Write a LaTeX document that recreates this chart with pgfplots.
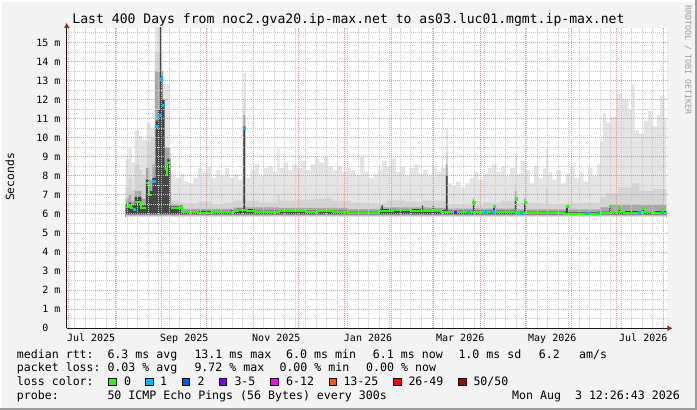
\documentclass[border=0pt]{standalone}
\usepackage{fontspec}
\setmainfont{DejaVu Sans Mono}
\usepackage{pgfplots}
\pgfplotsset{compat=1.18}
\usetikzlibrary{arrows.meta}

\definecolor{bgc}{RGB}{243,243,243}
\definecolor{smokeA}{RGB}{228,228,228}
\definecolor{smokeB}{RGB}{212,212,212}
\definecolor{smokeC}{RGB}{168,168,168}
\definecolor{smokeD}{RGB}{70,70,70}
\definecolor{loss0}{HTML}{26FF00}
\definecolor{loss1}{HTML}{00B8FF}
\definecolor{loss2}{HTML}{0059FF}
\definecolor{loss3}{HTML}{7E00FF}
\definecolor{loss6}{HTML}{FF00FF}
\definecolor{loss13}{HTML}{FF5500}
\definecolor{loss26}{HTML}{FF0000}
\definecolor{loss50}{HTML}{A10000}
\definecolor{mgrid}{RGB}{242,150,150}
\definecolor{mingrid}{RGB}{205,205,205}
\definecolor{arrowred}{RGB}{170,30,30}

\newcommand{\legfont}{\fontsize{11.6}{13}\selectfont}
\newcommand{\legt}[3]{\node[anchor=base west,inner sep=0pt,font=\legfont] at (#1,#2) {#3};}
\newcommand{\lbox}[2]{\filldraw[fill=#2,draw=black,line width=0.8pt] (#1,24.3) rectangle ++(7.7,7.7);}

\begin{document}
\begin{tikzpicture}[x=1pt,y=1pt]
% canvas and 3d border
\fill[bgc] (0,0) rectangle (697,410);
\fill[white] (0,408) rectangle (697,410);
\fill[white] (0,0) rectangle (2,410);
\fill[black!38] (0,0) rectangle (697,2);
\fill[black!38] (695,0) rectangle (697,410);

\begin{axis}[
    at={(66.7pt,81.7pt)}, anchor=south west,
    scale only axis, width=600.6pt, height=300.3pt,
    xmin=-1.3, xmax=398.7, ymin=0, ymax=15.76,
    axis background/.style={fill=white},
    axis on top,
    axis lines=left,
    axis line style={black!90, line width=1pt, shorten >=-5pt,
        -{Triangle[length=5pt,width=5pt,color=arrowred]}},
    xtick={15,77,138.3,199.4,260.8,322.1,382.7},
    xticklabels={Jul 2025,Sep 2025,Nov 2025,Jan 2026,Mar 2026,May 2026,Jul 2026},
    extra x ticks={0,31,62,92,123,153,184,215,243,274,304,335,365,396},
    extra x tick labels={},
    extra x tick style={grid=major},
    minor xtick={4,11,...,396},
    ytick={0,1,...,15},
    yticklabels={0\hphantom{mm},1 m,2 m,3 m,4 m,5 m,6 m,7 m,8 m,9 m,10 m,11 m,12 m,13 m,14 m,15 m},
    minor ytick={0.5,1.5,...,15.5},
    xmajorgrids=false, ymajorgrids=true, xminorgrids=true, yminorgrids=true,
    major grid style={mgrid, dash pattern=on 1pt off 1pt, line width=1pt},
    minor grid style={mingrid, dash pattern=on 1pt off 1pt, line width=1pt},
    major tick length=0pt, minor tick length=0pt,
    tick label style={font=\fontsize{10}{12}\selectfont},
    xticklabel style={anchor=north, inner sep=0pt, yshift=-5.2pt},
    yticklabel style={anchor=east, inner sep=0pt, xshift=-6pt},
    unbounded coords=jump,
]
% outer smoke (max envelope)
\addplot[const plot, fill=smokeA, draw=none] coordinates {
(38,8.9)(40,9.5)(42,8.7)(44,10.4)(47,10.1)(49,9.9)(52,10.8)(55,10.5)(57.5,16)(62.5,12.8)
(67,8.2)(68.5,8.0)(71,7.9)(74,8.1)(77,7.7)(80,7.6)(83,7.9)(86,8.4)(89,8.2)(92,8.5)
(95,7.9)(98,8.3)(101,8.0)(104,8.4)(107,7.9)(110,8.1)(113,7.8)(116.5,13.4)(118,7.9)(121,8.3)
(124,8.6)(127,8.0)(130,8.4)(133,8.5)(136,8.2)(139,9.4)(140.5,8.4)(143,8.7)(146,8.3)(149,8.6)
(152,8.4)(155,8.8)(158,8.3)(161,8.6)(164,8.9)(167,8.7)(170,9.0)(173,8.5)(176,8.3)(179,8.5)
(182,8.2)(185,8.4)(188,8.3)(191,8.0)(194,9.0)(197,8.2)(200,7.9)(203,8.1)(206,8.3)(209,8.8)
(212,8.5)(215,8.9)(218,8.2)(221,8.5)(224,8.0)(227,8.4)(230,8.6)(233,8.1)(236,8.3)(239,8.0)
(242,8.5)(245,8.2)(248,8.4)(251.3,10.5)(252.7,7.6)(255,7.5)(258,7.7)(261,7.4)(264,7.6)(267,7.9)
(270,8.2)(273,7.8)(276,8.1)(279,8.4)(282,8.6)(285,8.2)(288,8.5)(291,8.0)(294,8.4)(297.3,9.2)
(298.7,8.1)(301,8.8)(304,8.3)(307,7.6)(310,8.5)(313,7.9)(316,8.4)(318,9.5)(319.5,8.2)(322,7.8)
(325,8.3)(328,7.6)(331,8.1)(334,8.5)(337,7.9)(340,8.2)(343,7.7)(346,8.4)(349,8.0)(352,8.6)
(354,9.8)(356,11.3)(358,10.8)(361,11.1)(365,12.3)(369,12.0)(373,11.5)(375,12.8)(377,10.4)(380,10.2)
(383,10.9)(386,11.4)(389,10.6)(392,11.2)(394,12.2)(397,11.0)(398,11.0)
} \closedcycle;
% middle smoke
\addplot[const plot, fill=smokeB, draw=none] coordinates {
(38,7.4)(40,7.9)(42,7.3)(44,8.6)(47,8.3)(49,8.0)(52,9.8)(55,10.0)(57.5,14.5)(62.5,11.0)
(64,9.4)(67,6.9)(68.5,6.7)(74,6.6)(77,6.55)(86,6.65)(95,6.5)(104,6.6)(110,6.7)(116.3,12.0)
(117.6,6.7)(127,6.6)(139,7.0)(140.5,6.7)(152,6.75)(164,6.8)(176,6.7)(188,6.6)(200,6.55)(212,6.7)
(224,6.65)(236,6.7)(251.2,9.2)(252.4,6.5)(264,6.45)(276,6.6)(288,6.7)(297.2,7.6)(298.4,6.6)(310,6.55)
(318,7.3)(319.5,6.5)(330,6.55)(342,6.6)(354,6.9)(358,7.1)(366,7.4)(375,7.6)(380,7.2)(390,7.3)(398,7.3)
} \closedcycle;
\addplot[const plot, fill=smokeC, draw=none] coordinates {
(38,6.8)(40,7.0)(41.8,6.7)(44,7.2)(48.4,6.8)(51.5,8.4)(53.6,7.8)(55.8,8.6)(57.5,13.5)(63,9.5)
(67.8,6.5)(74,6.45)(75.5,6.27)(110,6.33)(116.3,11.2)(117.6,6.35)(140,6.32)(186,6.25)(207,6.35)(240,6.32)
(251.2,8.6)(252.4,6.28)(269.2,6.8)(270.4,6.28)(297.2,7.2)(298.4,6.24)(303.4,6.8)(304.6,6.24)(354,6.35)(360,6.48)(398,6.48)
} \closedcycle;
% dark core
\addplot[const plot, fill=smokeD, draw=none] coordinates {
(38,6.5)(40,6.6)(41.8,6.45)(44,6.9)(48.4,6.45)(51.5,7.8)(53.6,7.2)(55.8,7.9)(58,10.9)(59.5,11.5)
(60.7,16)(61.4,13.3)(62.2,12.0)(64,8.3)(65.8,8.9)(67.8,6.4)(74,6.45)(75.5,6.16)(108,6.2)(112,6.28)
(116.3,10.6)(117.6,6.26)(124,6.18)(186,6.12)(207,6.25)(208.2,6.45)(209.2,6.25)(216,6.28)(217,6.25)(235,6.45)
(236,6.22)(242.3,6.4)(243.3,6.22)(251.2,8.0)(252.4,6.18)(269.2,6.65)(270.4,6.18)(282.7,6.45)(283.9,6.18)(297.2,6.85)
(298.4,6.12)(303.4,6.65)(304.6,6.12)(331.2,6.45)(332.4,6.08)(354,6.12)(360.1,6.45)(361.3,6.15)(366.1,6.35)(367.3,6.15)
(382.1,6.35)(383.3,6.15)(394.7,6.3)(395.9,6.15)(398,6.15)
} \closedcycle;
% smoke below the median, fading out
\addplot[fill=black!45, draw=none] coordinates {(38,6.02)(398,6.02)} \closedcycle;
\addplot[fill=black!25, draw=none] coordinates {(38,5.96)(398,5.96)} \closedcycle;
\addplot[fill=black!12, draw=none] coordinates {(38,5.91)(398,5.91)} \closedcycle;
\addplot[fill=white, draw=none] coordinates {(37,5.86)(399,5.86)} \closedcycle;

% median rtt, 0 loss
\addplot[const plot, loss0, line width=2pt] coordinates {
(38,6.35)(40,6.45)(41.8,6.3)(43,6.3)(43,nan)
(44,6.65)(48.4,6.3)(51.5,6.3)(51.5,nan)
(51.6,7.6)(53.6,7.0)(55.8,7.0)(55.8,nan)
(55.9,7.7)(57.3,7.7)(57.3,nan)
(64,8.05)(65.8,8.65)(67.8,8.65)(67.8,nan)
(67.9,6.3)(74,6.35)(75.5,6.08)(86,6.06)(96,6.08)(104,6.1)(110,6.15)(113,6.22)(119,6.18)(124,6.12)
(132,6.1)(140,6.14)(150,6.16)(158,6.12)(166,6.15)(176,6.12)(186,6.05)(197,6.07)(207,6.18)(216,6.2)
(228,6.18)(238,6.15)(248,6.12)(260,6.1)(275,6.12)(288,6.1)(300,6.05)(315,6.03)(330,6.02)(345,6.0)
(354,6.05)(362,6.08)(370,6.05)(380,6.08)(390,6.05)(398,6.05)
};
\addplot[only marks, mark=square*, mark size=1.1pt, loss0] coordinates {
(269.8,6.6)(283.3,6.4)(297.8,6.8)(304,6.6)(331.8,6.4)(360.7,6.4)(366.7,6.3)(382.7,6.3)(395.3,6.25)
};
% median rtt, 1 loss
\addplot[only marks, mark=square*, mark size=1.1pt, loss1] coordinates {
(43.5,6.25)(56.6,7.7)(59,10.6)(60.3,11.2)(61.5,13.1)(62.8,11.7)(117,10.5)(266.2,6.12)(277.3,6.12)
(282.4,6.12)(296.7,6.2)(301.3,6.07)(345,6.02)(352.9,6.1)(380.2,6.08)(395.1,6.1)
};
% median rtt, 3-5 loss
\addplot[only marks, mark=square*, mark size=1.1pt, loss3] coordinates {(257.3,6.1)};
\end{axis}

% title and side texts
\node[anchor=base, inner sep=0pt, font=\fontsize{13.1}{15}\selectfont] at (348.5,386)
  {Last 400 Days from noc2.gva20.ip-max.net to as03.luc01.mgmt.ip-max.net};
\node[rotate=90, inner sep=0pt, font=\fontsize{11.3}{13}\selectfont] at (10,233) {Seconds};
\node[rotate=-90, inner sep=0pt, text=black!38, font=\fontsize{8.3}{10}\selectfont] at (688,350)
  {RRDTOOL / TOBI OETIKER};

% legend block
\legt{16.7}{51.7}{median rtt:}
\legt{107.3}{51.7}{6.3 ms avg}
\legt{194.3}{51.7}{13.1 ms max}
\legt{286}{51.7}{6.0 ms min}
\legt{372.7}{51.7}{6.1 ms now}
\legt{458.3}{51.7}{1.0 ms sd}
\legt{538.7}{51.7}{6.2}
\legt{579}{51.7}{am/s}

\legt{16.7}{38.1}{packet loss:}
\legt{107.3}{38.1}{0.03 \% avg}
\legt{194.3}{38.1}{9.72 \% max}
\legt{279.3}{38.1}{0.00 \% min}
\legt{366}{38.1}{0.00 \% now}

\legt{16.7}{24.3}{loss color:}
\lbox{108.3}{loss0}\legt{124}{24.3}{0}
\lbox{145.7}{loss1}\legt{160}{24.3}{1}
\lbox{182}{loss2}\legt{197.3}{24.3}{2}
\lbox{219}{loss3}\legt{234.3}{24.3}{3-5}
\lbox{270.7}{loss6}\legt{286}{24.3}{6-12}
\lbox{329}{loss13}\legt{343.3}{24.3}{13-25}
\lbox{393.3}{loss26}\legt{408.3}{24.3}{26-49}
\lbox{458.3}{loss50}\legt{473.3}{24.3}{50/50}

\legt{16.7}{10.7}{probe:}
\legt{107.3}{10.7}{50 ICMP Echo Pings (56 Bytes) every 300s}
\node[anchor=base east, inner sep=0pt, font=\legfont] at (680,10.7) {Mon Aug~~3 12:26:43 2026};

\pgfresetboundingbox
\path[use as bounding box] (0,0) rectangle (697,410);
\end{tikzpicture}
\end{document}
